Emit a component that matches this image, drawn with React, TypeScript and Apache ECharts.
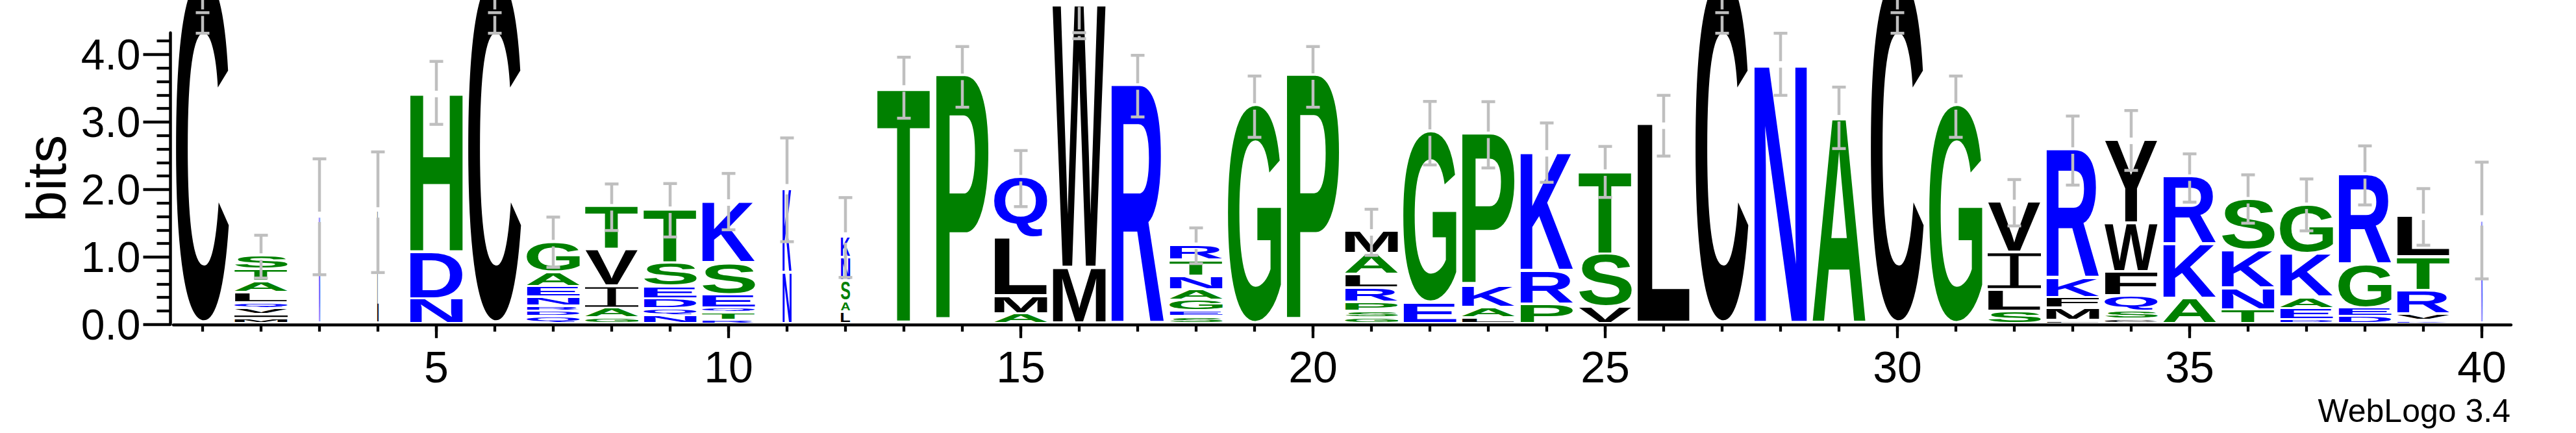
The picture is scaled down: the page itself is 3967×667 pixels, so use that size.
import React, { useEffect, useRef } from 'react';
import * as echarts from 'echarts';

// ---------- data ----------
const POSITIONS: number[] = [1, 2, 3, 4, 5, 6, 7, 8, 9, 10, 11, 12, 13, 14, 15, 16, 17, 18, 19, 20,
  21, 22, 23, 24, 25, 26, 27, 28, 29, 30, 31, 32, 33, 34, 35, 36, 37, 38, 39, 40];

// letters of each stack, bottom -> top
const STACK_LETTERS: string[] = [
  'C', 'MIVQLATS', 'N', 'L', 'NDH', 'C', 'QDRNEAG', 'GAIVT', 'NQDEST', 'RTQESK',
  'NK', 'LASNK', 'T', 'P', 'AMLQ', 'MW', 'R', 'SEGANTR', 'G', 'P',
  'GSPRLAM', 'EG', 'LAKP', 'PRK', 'VST', 'L', 'C', 'N', 'A', 'C',
  'G', 'SLIV', 'LMFKR', 'CSQFWY', 'AKR', 'TNKS', 'DEAKG', 'DEGR', 'KVRTL', 'N',
];

// height (bits) of each letter, bottom -> top
const STACK_BITS: number[][] = [
  [5.12],
  [0.075, 0.058, 0.092, 0.08, 0.152, 0.164, 0.183, 0.202],
  [1.595],
  [1.66],
  [0.368, 0.683, 2.364],
  [5.12],
  [0.104, 0.081, 0.073, 0.139, 0.155, 0.206, 0.447],
  [0.082, 0.143, 0.327, 0.541, 0.643],
  [0.123, 0.102, 0.143, 0.184, 0.348, 0.8],
  [0.05, 0.113, 0.07, 0.196, 0.47, 0.908],
  [0.758, 1.246],
  [0.176, 0.151, 0.307, 0.348, 0.307],
  [3.497],
  [3.669],
  [0.142, 0.266, 0.859, 0.901],
  [0.818, 3.888],
  [3.526],
  [0.104, 0.088, 0.156, 0.155, 0.201, 0.237, 0.225],
  [3.231],
  [3.673],
  [0.082, 0.103, 0.135, 0.213, 0.196, 0.303, 0.332],
  [0.307, 2.536],
  [0.082, 0.152, 0.318, 2.258],
  [0.287, 0.49, 1.759],
  [0.245, 0.778, 1.227],
  [2.945],
  [5.12],
  [3.853],
  [3.056],
  [5.12],
  [3.231],
  [0.185, 0.318, 0.55, 0.747],
  [0.045, 0.18, 0.163, 0.287, 1.902],
  [0.062, 0.123, 0.224, 0.359, 0.717, 1.236],
  [0.368, 0.806, 1.002],
  [0.205, 0.317, 0.562, 0.757],
  [0.06, 0.165, 0.163, 0.648, 0.723],
  [0.104, 0.13, 0.646, 1.329],
  [0.045, 0.098, 0.348, 0.503, 0.601],
  [1.542],
];

// fraction of the full stack width (columns with many gaps are narrow)
const STACK_WIDTH: number[] = [
  1, 1, 0.024, 0.024, 1, 1, 1, 1, 1, 1,
  0.17, 0.175, 1, 1, 1, 1, 1, 1, 1, 1,
  1, 1, 1, 1, 1, 1, 1, 1, 1, 1,
  1, 1, 1, 1, 1, 1, 1, 1, 1, 0.024,
];

// error bars (bits)
const ERR_LO: number[] = [
  4.315, 0.6875, 0.737, 0.769, 2.965, 4.315, 0.847, 1.392, 1.296, 1.403,
  1.226, 0.697, 3.056, 3.219, 1.746, 4.234, 3.075, 0.902, 2.773, 3.219,
  1.024, 2.364, 2.319, 2.107, 1.882, 2.495, 4.315, 3.395, 2.606, 4.315,
  2.773, 1.46, 2.065, 2.283, 1.812, 1.501, 1.387, 1.771, 1.174, 0.675,
];
const ERR_HI: (number | null)[] = [
  null, 1.322, 2.454, 2.557, 3.898, null, 1.591, 2.082, 2.088, 2.238,
  2.764, 1.88, 3.96, 4.118, 2.577, null, 3.988, 1.431, 3.681, 4.118,
  1.707, 3.305, 3.301, 2.986, 2.638, 3.395, null, 4.315, 3.517, null,
  3.681, 2.147, 3.088, 3.17, 2.528, 2.217, 2.156, 2.646, 2.013, 2.405,
];
const ERR_MARK: (number | null)[] = [
  4.62, null, null, null, null, 4.62, null, null, null, null,
  null, null, null, null, null, 4.323, null, null, null, null,
  null, null, null, null, null, null, 4.62, null, null, 4.62,
  null, null, null, null, null, null, null, null, null, null,
];

const Y_MAJOR: number[] = [0, 1, 2, 3, 4];
const Y_MINOR: number[] = [0.2, 0.4, 0.6, 0.8, 1.2, 1.4, 1.6, 1.8, 2.2, 2.4, 2.6, 2.8, 3.2, 3.4, 3.6, 3.8, 4.2];
const X_LABELS: number[] = [5, 10, 15, 20, 25, 30, 35, 40];
const Y_MAX = 4.3219;

// ---------- styles ----------
const ALPHABET = 'ACDEFGHIKLMNPQRSTVWY';
const FF = '"Liberation Sans", Arial, Helvetica, sans-serif';
const LETTER_FONT = `bold 100px ${FF}`;
const BLUE = '#0000FF';
const GREEN = '#008000';
const BLACK = '#000000';
const ERR_COLOR = '#BFBFBF';
const STACK_FRAC = 82 / 90;
const LETTER_GAP = 3.8;

function colorOf(ch: string): string {
  if ('RKDENQ'.indexOf(ch) >= 0) return BLUE;
  if ('SGHTAP'.indexOf(ch) >= 0) return GREEN;
  return BLACK;
}

type M = { l: number; r: number; a: number; d: number };

function calibrate(): { metrics: Record<string, M>; cOff: number } {
  const metrics: Record<string, M> = {};
  const cv = document.createElement('canvas');
  const ctx = cv.getContext('2d')!;
  ctx.font = LETTER_FONT;
  for (const ch of ALPHABET) {
    const m = ctx.measureText(ch);
    metrics[ch] = {
      l: m.actualBoundingBoxLeft,
      r: m.actualBoundingBoxRight,
      a: m.actualBoundingBoxAscent,
      d: m.actualBoundingBoxDescent,
    };
  }
  let cOff = 34.65;
  try {
    const NS = 'http://www.w3.org/2000/svg';
    const svg = document.createElementNS(NS, 'svg');
    svg.setAttribute('width', '400');
    svg.setAttribute('height', '400');
    (svg as any).style.position = 'absolute';
    (svg as any).style.left = '-5000px';
    (svg as any).style.top = '0px';
    const mk = (central: boolean) => {
      const t = document.createElementNS(NS, 'text');
      t.setAttribute('x', '0');
      t.setAttribute('y', '200');
      t.setAttribute('style', `font: ${LETTER_FONT}`);
      if (central) t.setAttribute('dominant-baseline', 'central');
      t.textContent = 'H';
      svg.appendChild(t);
      return t as SVGTextElement;
    };
    const t1 = mk(false);
    const t2 = mk(true);
    document.body.appendChild(svg);
    const b1 = t1.getBBox();
    const b2 = t2.getBBox();
    document.body.removeChild(svg);
    if (b1.height > 0 && b2.height > 0) cOff = b2.y - b1.y;
  } catch (e) {
    // keep default
  }
  return { metrics, cOff };
}

function buildOption(metrics: Record<string, M>, cOff: number): any {
  const letterData: number[][] = [];
  const errData: number[][] = [];
  POSITIONS.forEach((pos, i) => {
    let acc = 0;
    const letters = STACK_LETTERS[i];
    STACK_BITS[i].forEach((h, j) => {
      letterData.push([pos, acc, acc + h, ALPHABET.indexOf(letters.charAt(j)), STACK_WIDTH[i]]);
      acc += h;
    });
    errData.push([pos, acc]);
  });

  const letterRender = (_params: any, api: any) => {
    const x = api.value(0);
    const y0 = api.value(1);
    const y1 = api.value(2);
    const ch = ALPHABET.charAt(api.value(3));
    const wf = api.value(4);
    const pb = api.coord([x, y0]);
    const pt = api.coord([x, y1]);
    const band = api.size([1, 0])[0];
    const w = Math.max(1.5, band * STACK_FRAC * wf);
    const left = pb[0] - w / 2;
    const boxH = pb[1] - pt[1];
    const inkH = boxH > 6 ? boxH - LETTER_GAP : boxH * 0.37;
    const top = pt[1];
    const fill = colorOf(ch);
    if (ch === 'I') {
      const b = top + inkH;
      const t = Math.max(1.2, inkH * 0.08);
      const sw = w * 0.16;
      const cx = left + w / 2;
      return {
        type: 'polygon',
        silent: true,
        shape: {
          points: [
            [left, top], [left + w, top], [left + w, top + t], [cx + sw / 2, top + t],
            [cx + sw / 2, b - t], [left + w, b - t], [left + w, b], [left, b],
            [left, b - t], [cx - sw / 2, b - t], [cx - sw / 2, top + t], [left, top + t],
          ],
        },
        style: { fill },
      };
    }
    const m = metrics[ch];
    const sx = w / (m.l + m.r);
    const sy = inkH / (m.a + m.d);
    return {
      type: 'text',
      silent: true,
      x: left + m.l * sx,
      y: top - (cOff - m.a) * sy,
      scaleX: sx,
      scaleY: sy,
      style: {
        text: ch,
        x: 0,
        y: 0,
        font: LETTER_FONT,
        fill,
        align: 'left',
        verticalAlign: 'middle',
        textAlign: 'left',
        textVerticalAlign: 'middle',
      },
    };
  };

  const errRender = (params: any, api: any) => {
    const i = params.dataIndex;
    const x = api.value(0);
    const topV = api.value(1);
    const cx = api.coord([x, 0])[0];
    const yPx = (v: number) => api.coord([x, v])[1];
    const lo = yPx(ERR_LO[i]);
    const hiV = ERR_HI[i];
    const hi = hiV == null ? yPx(topV) : yPx(hiV);
    const markV = ERR_MARK[i];
    const gc = yPx(markV == null ? topV : markV);
    const gh = STACK_WIDTH[i] < 0.5 ? 8 : 5;
    const st = { stroke: ERR_COLOR, lineWidth: 4.5 };
    const ln = (x1: number, y1: number, x2: number, y2: number) => ({
      type: 'line', silent: true, shape: { x1, y1, x2, y2 }, style: st,
    });
    const children: any[] = [];
    if (gc - gh > hi) children.push(ln(cx, hi, cx, gc - gh));
    if (lo > gc + gh) children.push(ln(cx, gc + gh, cx, lo));
    children.push(ln(cx - 10.5, lo, cx + 10.5, lo));
    if (hiV != null) children.push(ln(cx - 10.5, hi, cx + 10.5, hi));
    if (markV != null) children.push(ln(cx - 10.5, gc, cx + 10.5, gc));
    return { type: 'group', children };
  };

  const tickStyle = { color: '#000', width: 4.3 };

  return {
    animation: false,
    backgroundColor: '#ffffff',
    grid: { left: 267, right: 100, top: 50.5, bottom: 167.2, containLabel: false },
    xAxis: [
      {
        type: 'value', min: 0.5, max: 40.5, position: 'bottom',
        axisLine: { show: true, onZero: false, lineStyle: { color: '#000', width: 4.5 } },
        axisTick: { show: true, customValues: POSITIONS, length: 11, lineStyle: tickStyle },
        axisLabel: { show: false },
        splitLine: { show: false },
      },
      {
        type: 'value', min: 0.5, max: 40.5, position: 'bottom',
        axisLine: { show: false, onZero: false },
        axisTick: { show: true, customValues: X_LABELS, length: 21, lineStyle: tickStyle },
        axisLabel: {
          show: true, customValues: X_LABELS, fontSize: 68, fontFamily: FF, color: '#000', margin: 31,
        },
        splitLine: { show: false },
      },
    ],
    yAxis: [
      {
        type: 'value', min: 0, max: Y_MAX, position: 'left', offset: 4.5,
        axisLine: { show: true, onZero: false, lineStyle: { color: '#000', width: 4.5 } },
        axisTick: { show: true, customValues: Y_MAJOR, length: 42, lineStyle: tickStyle },
        axisLabel: {
          show: true, customValues: Y_MAJOR, fontSize: 66, fontFamily: FF, color: '#000', margin: 46,
          formatter: (v: number) => Number(v).toFixed(1),
        },
        splitLine: { show: false },
      },
      {
        type: 'value', min: 0, max: Y_MAX, position: 'left', offset: 4.5,
        axisLine: { show: false, onZero: false },
        axisTick: { show: true, customValues: Y_MINOR, length: 21, lineStyle: tickStyle },
        axisLabel: { show: false },
        splitLine: { show: false },
      },
    ],
    graphic: [
      {
        type: 'text', x: 71, y: 275, rotation: Math.PI / 2, silent: true,
        style: {
          text: 'bits', font: `86px ${FF}`, fill: '#000',
          align: 'center', verticalAlign: 'middle', textAlign: 'center', textVerticalAlign: 'middle',
        },
      },
      {
        type: 'text', x: 3866, y: 633, silent: true,
        style: {
          text: 'WebLogo 3.4', font: `50px ${FF}`, fill: '#000',
          align: 'right', verticalAlign: 'middle', textAlign: 'right', textVerticalAlign: 'middle',
        },
      },
    ],
    series: [
      {
        type: 'custom', xAxisIndex: 0, yAxisIndex: 0, clip: false, silent: true,
        renderItem: letterRender, data: letterData, z: 2,
      },
      {
        type: 'custom', xAxisIndex: 0, yAxisIndex: 0, clip: false, silent: true,
        renderItem: errRender, data: errData, z: 3,
      },
    ],
  };
}

export default function App() {
  const ref = useRef<HTMLDivElement>(null);
  useEffect(() => {
    const el = ref.current;
    if (!el) return;
    const { metrics, cOff } = calibrate();
    const chart = echarts.init(el, undefined, { renderer: 'svg' });
    chart.setOption(buildOption(metrics, cOff));
    return () => {
      chart.dispose();
    };
  }, []);
  return (
    <div
      ref={ref}
      style={{ position: 'absolute', left: 0, top: 0, width: 3967, height: 667, background: '#fff' }}
    />
  );
}
